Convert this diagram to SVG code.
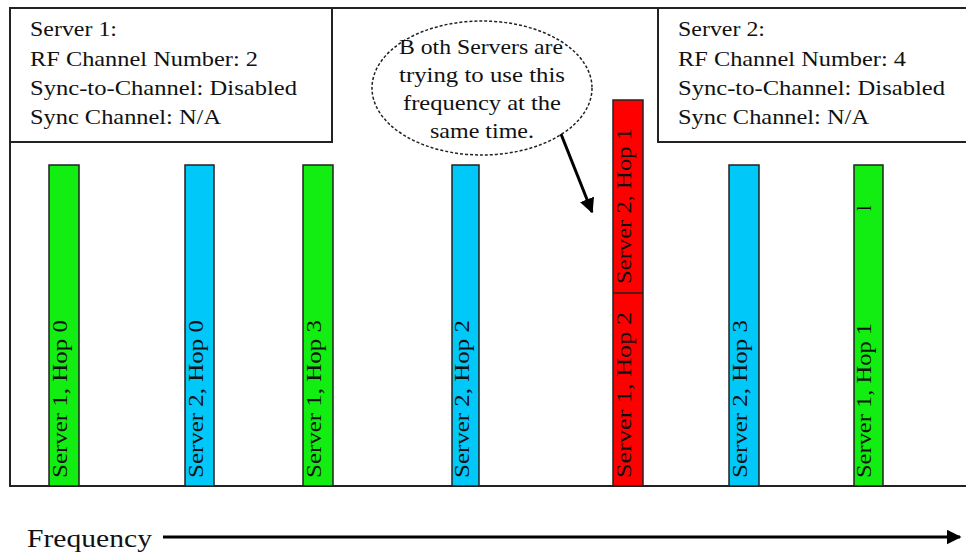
<svg xmlns="http://www.w3.org/2000/svg" width="966" height="555" viewBox="0 0 966 555">
<style>
.t{font-family:"Liberation Serif","Times New Roman",serif;fill:#111}
.hd{font-size:22px}
.bt{font-size:20px}
.box{fill:#fff;stroke:#222;stroke-width:2}
.bar{stroke:#222;stroke-width:1.5}
.g{fill:#12ee12}
.b{fill:#00c8f8}
.r{fill:#ff0000}
</style>
<defs>
<marker id="ah" viewBox="0 0 10 10" refX="9" refY="5" markerWidth="5" markerHeight="5" orient="auto" markerUnits="strokeWidth">
<path d="M0,0 L10,5 L0,10 z" fill="#000"/>
</marker>
</defs>
<rect width="966" height="555" fill="#fff"/>
<g id="frame">
<rect class="box" x="10" y="8" width="970" height="478"/>
</g>
<g id="server1">
<rect class="box" x="10" y="8" width="322" height="134"/>
<text class="t hd" x="30" y="36" textLength="87" lengthAdjust="spacingAndGlyphs">Server 1:</text>
<text class="t hd" x="30" y="66" textLength="228" lengthAdjust="spacingAndGlyphs">RF Channel Number: 2</text>
<text class="t hd" x="30" y="95" textLength="267" lengthAdjust="spacingAndGlyphs">Sync-to-Channel: Disabled</text>
<text class="t hd" x="30" y="124" textLength="191" lengthAdjust="spacingAndGlyphs">Sync Channel: N/A</text>
</g>
<g id="server2">
<rect class="box" x="658" y="8" width="322" height="134"/>
<text class="t hd" x="678" y="36" textLength="87" lengthAdjust="spacingAndGlyphs">Server 2:</text>
<text class="t hd" x="678" y="66" textLength="228" lengthAdjust="spacingAndGlyphs">RF Channel Number: 4</text>
<text class="t hd" x="678" y="95" textLength="267" lengthAdjust="spacingAndGlyphs">Sync-to-Channel: Disabled</text>
<text class="t hd" x="678" y="124" textLength="191" lengthAdjust="spacingAndGlyphs">Sync Channel: N/A</text>
</g>
<g id="bubble">
<ellipse cx="482" cy="88" rx="110" ry="67" fill="#fff" stroke="#222" stroke-width="1.5" stroke-dasharray="3,2"/>
<text class="t hd" font-family="Liberation Serif, serif" x="399" y="54" textLength="164" lengthAdjust="spacingAndGlyphs">B oth Servers are</text>
<text class="t hd" font-family="Liberation Serif, serif" x="399" y="82" textLength="166" lengthAdjust="spacingAndGlyphs">trying to use this</text>
<text class="t hd" font-family="Liberation Serif, serif" x="403" y="110" textLength="158" lengthAdjust="spacingAndGlyphs">frequency at the</text>
<text class="t hd" font-family="Liberation Serif, serif" x="430" y="138" textLength="104" lengthAdjust="spacingAndGlyphs">same time.</text>
</g>
<g id="bar1">
<rect class="bar g" x="49" y="165" width="30" height="321"/>
<text class="t bt" transform="translate(67,478) rotate(-90)" textLength="158" lengthAdjust="spacingAndGlyphs">Server 1, Hop 0</text>
</g>
<g id="bar2">
<rect class="bar b" x="185" y="165" width="29" height="321"/>
<text class="t bt" transform="translate(203,478) rotate(-90)" textLength="158" lengthAdjust="spacingAndGlyphs">Server 2, Hop 0</text>
</g>
<g id="bar3">
<rect class="bar g" x="303" y="165" width="30" height="321"/>
<text class="t bt" transform="translate(321,478) rotate(-90)" textLength="158" lengthAdjust="spacingAndGlyphs">Server 1, Hop 3</text>
</g>
<g id="bar4">
<rect class="bar b" x="452" y="165" width="27" height="321"/>
<text class="t bt" transform="translate(469,478) rotate(-90)" textLength="158" lengthAdjust="spacingAndGlyphs">Server 2, Hop 2</text>
</g>
<g id="bar5">
<rect class="bar r" x="613" y="100" width="30" height="386"/>
<line x1="613" y1="293" x2="643" y2="293" stroke="#222" stroke-width="1.5"/>
<text class="t bt" transform="translate(631,478) rotate(-90)" textLength="166" lengthAdjust="spacingAndGlyphs">Server 1, Hop 2</text>
<text class="t bt" transform="translate(631,284) rotate(-90)" textLength="156" lengthAdjust="spacingAndGlyphs">Server 2, Hop 1</text>
</g>
<g id="bar6">
<rect class="bar b" x="729" y="165" width="30" height="321"/>
<text class="t bt" transform="translate(747,478) rotate(-90)" textLength="158" lengthAdjust="spacingAndGlyphs">Server 2, Hop 3</text>
</g>
<g id="bar7">
<rect class="bar g" x="854" y="165" width="29" height="321"/>
<text class="t bt" transform="translate(871,478) rotate(-90)" textLength="155" lengthAdjust="spacingAndGlyphs">Server 1, Hop 1</text>
<text class="t bt" transform="translate(871,211) rotate(-90)">l</text>
</g>
<g id="connectors">
<line x1="561" y1="134" x2="592" y2="212" stroke="#000" stroke-width="3" marker-end="url(#ah)"/>
<line x1="163" y1="537" x2="960" y2="537" stroke="#000" stroke-width="3" marker-end="url(#ah)"/>
</g>
<g id="axis-label">
<text class="t" x="27" y="547" font-size="25" textLength="125" lengthAdjust="spacingAndGlyphs">Frequency</text>
</g>
</svg>
